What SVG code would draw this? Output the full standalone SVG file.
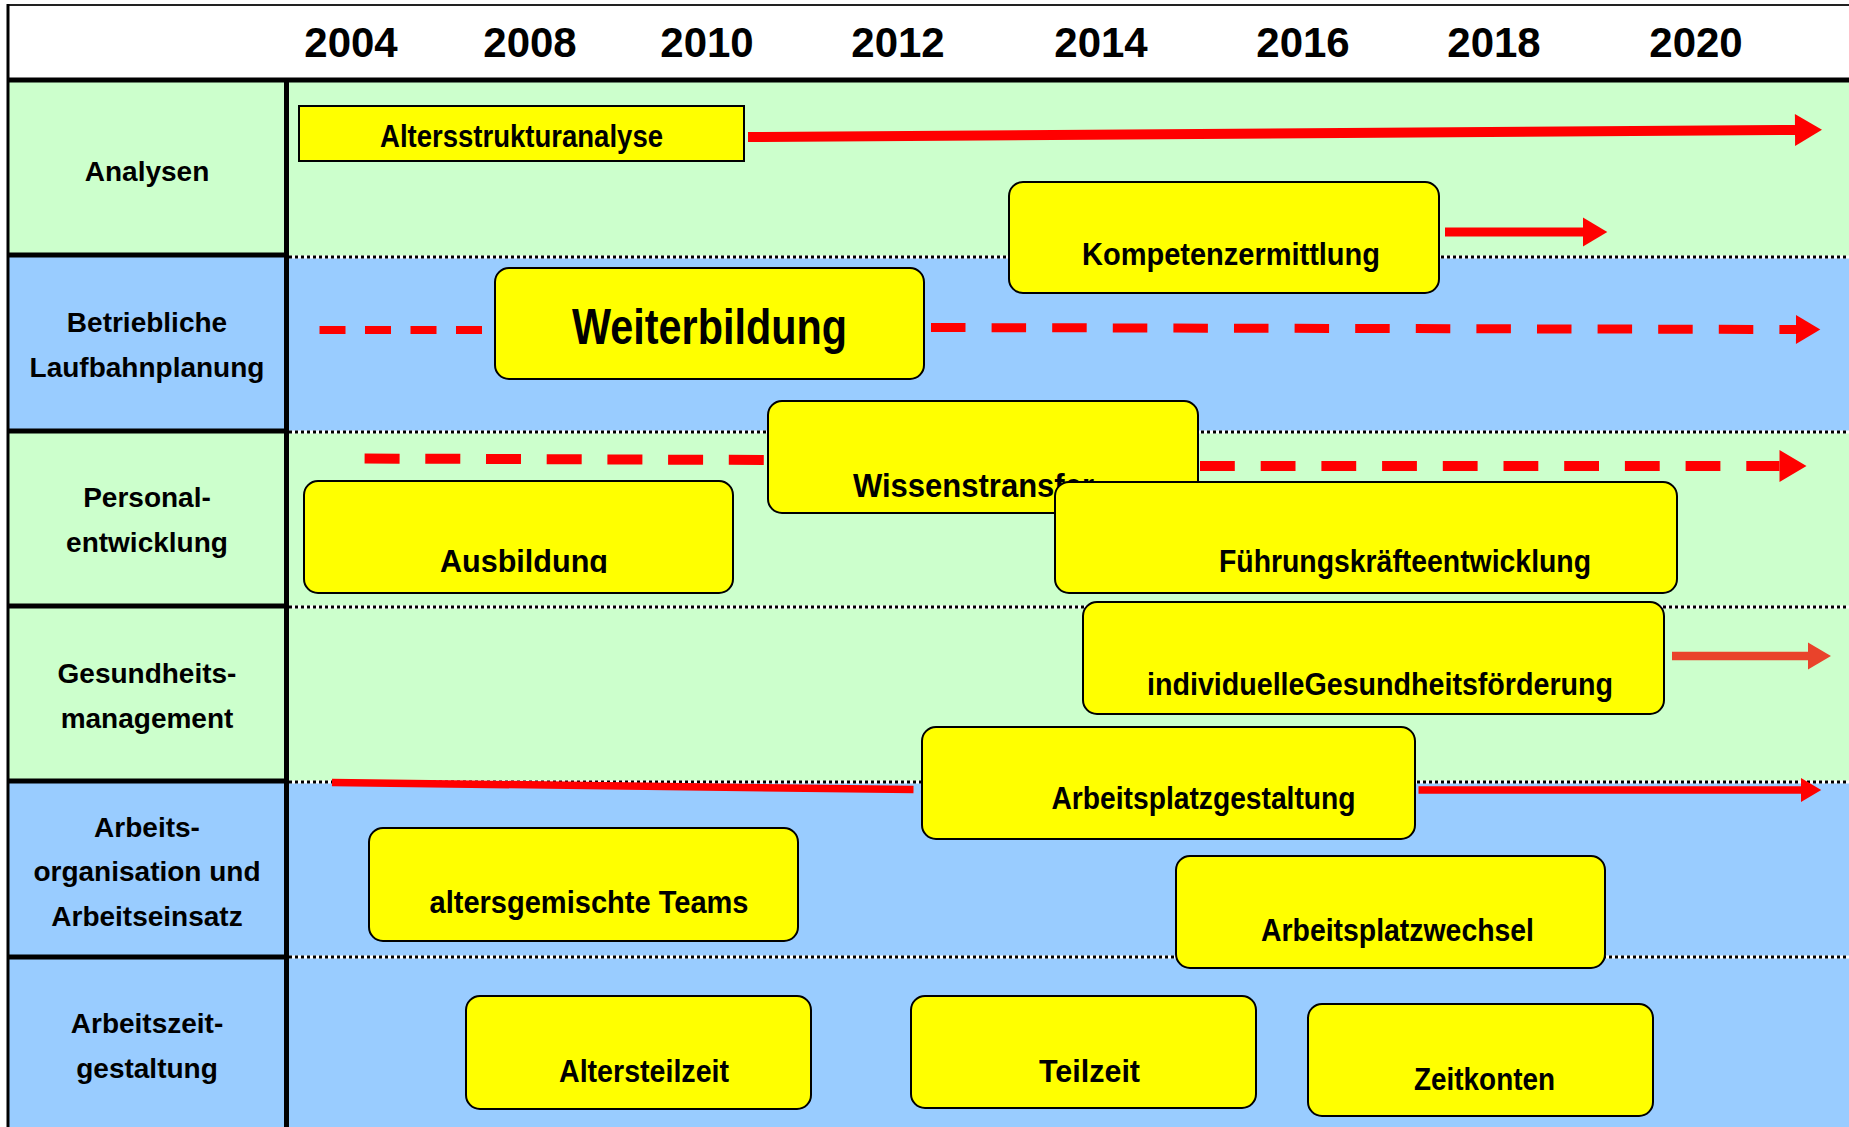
<svg xmlns="http://www.w3.org/2000/svg" width="1849" height="1127" viewBox="0 0 1849 1127">
<style>
.green{fill:#CCFFCC}
.blue{fill:#99CCFF}
.thick{stroke:#000;stroke-width:5}
.dotbg{stroke:#fff;stroke-width:3}
.dot{stroke:#000;stroke-width:3;stroke-dasharray:3 3}
.yr{font-family:"Liberation Sans",Arial,sans-serif;font-weight:bold;font-size:42px;fill:#000;text-anchor:middle}
.lbl{font-family:"Liberation Sans",Arial,sans-serif;font-weight:bold;font-size:28px;fill:#000;text-anchor:middle}
.box{fill:#FFFF00;stroke:#000;stroke-width:2}
.nt{font-family:"Liberation Sans",Arial,sans-serif;font-weight:bold;font-size:32px;fill:#000;text-anchor:middle}
.red{stroke:#FF0000;fill:none}
.org{stroke:#E9432B;fill:none}
</style>
<defs>
<marker id="ah" markerUnits="strokeWidth" markerWidth="3" markerHeight="3.4" refX="0" refY="1.6" orient="auto" overflow="visible">
<path d="M0,0 L2.7,1.6 L0,3.2 z" fill="#FF0000"/>
</marker>
<marker id="aho" markerUnits="strokeWidth" markerWidth="3" markerHeight="3.4" refX="0" refY="1.6" orient="auto" overflow="visible">
<path d="M0,0 L2.7,1.6 L0,3.2 z" fill="#E9432B"/>
</marker>
<clipPath id="clipAus"><rect x="300" y="478" width="440" height="95"/></clipPath>
</defs>

<g id="grid">
<rect x="8" y="5" width="1841" height="75" fill="#fff"/>
<rect class="green" x="8" y="80" width="1841" height="176"/>
<rect class="blue" x="8" y="256" width="1841" height="176"/>
<rect class="green" x="8" y="432" width="1841" height="175"/>
<rect class="green" x="8" y="607" width="1841" height="175"/>
<rect class="blue" x="8" y="782" width="1841" height="175"/>
<rect class="blue" x="8" y="957" width="1841" height="170"/>
<line x1="8" y1="5" x2="1849" y2="5" stroke="#222" stroke-width="2"/>
<line x1="8" y1="4" x2="8" y2="1127" stroke="#000" stroke-width="3"/>
<line class="thick" x1="8" y1="80" x2="1849" y2="80"/>
<line class="thick" x1="286.5" y1="78" x2="286.5" y2="1127"/>
<line class="thick" x1="8" y1="255" x2="289" y2="255"/>
<line class="thick" x1="8" y1="431" x2="289" y2="431"/>
<line class="thick" x1="8" y1="606" x2="289" y2="606"/>
<line class="thick" x1="8" y1="781" x2="289" y2="781"/>
<line class="thick" x1="8" y1="957" x2="289" y2="957"/>
<line class="dotbg" x1="289" y1="257" x2="1849" y2="257"/>
<line class="dot" x1="289" y1="257" x2="1849" y2="257"/>
<line class="dotbg" x1="289" y1="432" x2="1849" y2="432"/>
<line class="dot" x1="289" y1="432" x2="1849" y2="432"/>
<line class="dotbg" x1="289" y1="607" x2="1849" y2="607"/>
<line class="dot" x1="289" y1="607" x2="1849" y2="607"/>
<line class="dotbg" x1="289" y1="782" x2="1849" y2="782"/>
<line class="dot" x1="289" y1="782" x2="1849" y2="782"/>
<line class="dotbg" x1="289" y1="957" x2="1849" y2="957"/>
<line class="dot" x1="289" y1="957" x2="1849" y2="957"/>
</g>

<g id="years">
<text class="yr" x="351" y="57">2004</text>
<text class="yr" x="530" y="57">2008</text>
<text class="yr" x="707" y="57">2010</text>
<text class="yr" x="898" y="57">2012</text>
<text class="yr" x="1101" y="57">2014</text>
<text class="yr" x="1303" y="57">2016</text>
<text class="yr" x="1494" y="57">2018</text>
<text class="yr" x="1696" y="57">2020</text>
</g>

<g id="rowlabels">
<text class="lbl" x="147" y="181">Analysen</text>
<text class="lbl" x="147" y="332">Betriebliche</text>
<text class="lbl" x="147" y="377">Laufbahnplanung</text>
<text class="lbl" x="147" y="507">Personal-</text>
<text class="lbl" x="147" y="552">entwicklung</text>
<text class="lbl" x="147" y="683">Gesundheits-</text>
<text class="lbl" x="147" y="728">management</text>
<text class="lbl" x="147" y="837">Arbeits-</text>
<text class="lbl" x="147" y="881">organisation und</text>
<text class="lbl" x="147" y="926">Arbeitseinsatz</text>
<text class="lbl" x="147" y="1033">Arbeitszeit-</text>
<text class="lbl" x="147" y="1078">gestaltung</text>
</g>

<g id="connectors">
<line class="red" x1="748" y1="137" x2="1795" y2="130" stroke-width="10" marker-end="url(#ah)"/>
<line class="red" x1="1445" y1="232" x2="1583" y2="232" stroke-width="9" marker-end="url(#ah)"/>
<line class="red" x1="319.5" y1="330" x2="482" y2="330" stroke-width="8" stroke-dasharray="26 19.5"/>
<line class="red" x1="931" y1="327.5" x2="1796" y2="329.5" stroke-width="9" stroke-dasharray="34.5 26.1" marker-end="url(#ah)"/>
<line class="red" x1="364.6" y1="458.5" x2="768" y2="460" stroke-width="10" stroke-dasharray="35 25.7"/>
<line class="red" x1="1200" y1="466" x2="1779.5" y2="466" stroke-width="10" stroke-dasharray="34.8 25.9" marker-end="url(#ah)"/>
<line class="org" x1="1672" y1="656" x2="1808" y2="656" stroke-width="8.5" marker-end="url(#aho)"/>
<line class="red" x1="332" y1="782.5" x2="913.5" y2="789.5" stroke-width="7.5"/>
<line class="red" x1="1418.5" y1="790" x2="1801" y2="790" stroke-width="7.5" marker-end="url(#ah)"/>
</g>

<g id="n-altersstrukturanalyse">
<rect class="box" x="299" y="106" width="445" height="55"/>
<text class="nt" x="521.5" y="147" font-size="33" textLength="283" lengthAdjust="spacingAndGlyphs">Altersstrukturanalyse</text>
</g>
<g id="n-kompetenzermittlung">
<rect class="box" x="1009" y="182" width="430" height="111" rx="14"/>
<text class="nt" x="1231" y="265" textLength="298" lengthAdjust="spacingAndGlyphs">Kompetenzermittlung</text>
</g>
<g id="n-weiterbildung">
<rect class="box" x="495" y="268" width="429" height="111" rx="14"/>
<text class="nt" x="709.5" y="344" style="font-size:50px" textLength="275" lengthAdjust="spacingAndGlyphs">Weiterbildung</text>
</g>
<g id="n-wissenstransfer">
<rect class="box" x="768" y="401" width="430" height="112" rx="14"/>
<text class="nt" x="853" y="497" style="font-size:33px;text-anchor:start" textLength="241" lengthAdjust="spacingAndGlyphs">Wissenstransfer</text>
</g>
<g id="n-ausbildung">
<rect class="box" x="304" y="481" width="429" height="112" rx="14"/>
<text class="nt" x="524" y="572" clip-path="url(#clipAus)" style="font-size:31px" textLength="168" lengthAdjust="spacingAndGlyphs">Ausbildung</text>
</g>
<g id="n-fuehrungskraefteentwicklung">
<rect class="box" x="1055" y="482" width="622" height="111" rx="14"/>
<text class="nt" x="1405" y="572" textLength="372" lengthAdjust="spacingAndGlyphs">Führungskräfteentwicklung</text>
</g>
<g id="n-gesundheitsfoerderung">
<rect class="box" x="1083" y="602" width="581" height="112" rx="14"/>
<text class="nt" x="1380" y="695" style="font-size:31px" textLength="466" lengthAdjust="spacingAndGlyphs">individuelleGesundheitsförderung</text>
</g>
<g id="n-arbeitsplatzgestaltung">
<rect class="box" x="922" y="727" width="493" height="112" rx="14"/>
<text class="nt" x="1203.5" y="809" textLength="304" lengthAdjust="spacingAndGlyphs">Arbeitsplatzgestaltung</text>
</g>
<g id="n-altersgemischte-teams">
<rect class="box" x="369" y="828" width="429" height="113" rx="14"/>
<text class="nt" x="589" y="913" style="font-size:31px" textLength="319" lengthAdjust="spacingAndGlyphs">altersgemischte Teams</text>
</g>
<g id="n-arbeitsplatzwechsel">
<rect class="box" x="1176" y="856" width="429" height="112" rx="14"/>
<text class="nt" x="1397.5" y="941" textLength="273" lengthAdjust="spacingAndGlyphs">Arbeitsplatzwechsel</text>
</g>
<g id="n-altersteilzeit">
<rect class="box" x="466" y="996" width="345" height="113" rx="14"/>
<text class="nt" x="644" y="1082" textLength="170" lengthAdjust="spacingAndGlyphs">Altersteilzeit</text>
</g>
<g id="n-teilzeit">
<rect class="box" x="911" y="996" width="345" height="112" rx="14"/>
<text class="nt" x="1089.5" y="1082" textLength="101" lengthAdjust="spacingAndGlyphs">Teilzeit</text>
</g>
<g id="n-zeitkonten">
<rect class="box" x="1308" y="1004" width="345" height="112" rx="14"/>
<text class="nt" x="1484.5" y="1090" textLength="141" lengthAdjust="spacingAndGlyphs">Zeitkonten</text>
</g>
</svg>
